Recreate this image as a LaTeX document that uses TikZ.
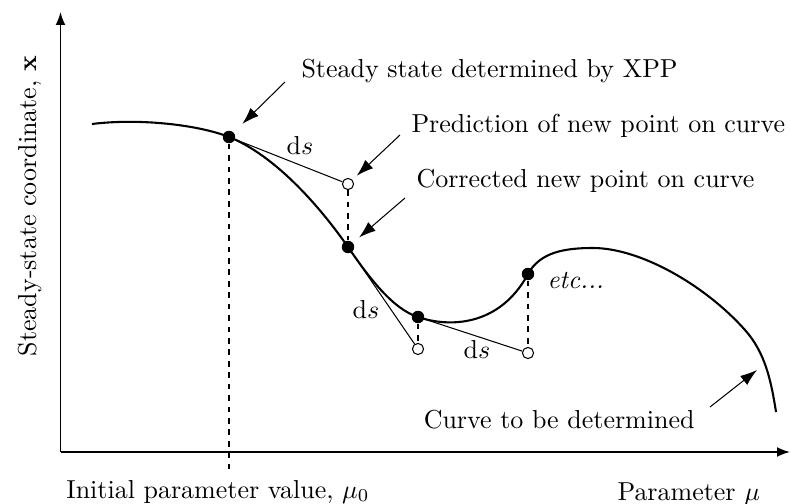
\documentclass[tikz,border=0pt]{standalone}
\usetikzlibrary{arrows.meta}
\tikzset{
  dot/.style={circle, fill=black, inner sep=0pt, minimum size=4.8pt},
  ring/.style={circle, draw=black, fill=white, line width=0.4pt, inner sep=0pt, minimum size=4.3pt},
  note/.style={anchor=base west, inner sep=0pt},
  guide/.style={dash pattern=on 2.2pt off 2.2pt, line width=0.4pt},
}
\begin{document}
\begin{tikzpicture}[x=0.385pt, y=-0.385pt, >={Latex[length=6.5pt,width=4.4pt]}]
    % 边界
    \useasboundingbox (0,0) rectangle (791,504);
    % 坐标轴
    \coordinate (o) at (60.5,452);
    \coordinate (xend) at (790,452);
    \coordinate (yend) at (60.5,12);
    \draw[line width=0.6pt, -{Latex[length=5pt,width=3.8pt]}] (o) -- (xend);
    \draw[line width=0.6pt, -{Latex[length=5pt,width=3.8pt]}] (o) -- (yend);
    \node[rotate=90, anchor=base, inner sep=0pt] (ylab) at (36,206) {Steady-state coordinate, $\mathbf{x}$};
    \node[anchor=base east, inner sep=0pt] (mu0lab) at (370,498) {Initial parameter value, $\mu_0$};
    \node[note] (mulab) at (617,500) {Parameter $\mu$};
    % 曲线上的点
    \node[dot] (p0) at (229,137) {};
    \node[dot] (p1) at (348,247) {};
    \node[dot] (p2) at (418,317) {};
    \node[dot] (p3) at (528,274) {};
    % 预测点
    \node[ring] (q1) at (348,184) {};
    \node[ring] (q2) at (418,349) {};
    \node[ring] (q3) at (528,353) {};
    % 曲线
    \draw[line width=0.8pt] (92,124) .. controls (140,118) and (199,125) .. (p0.center)
        .. controls (274,155) and (318,204) .. (p1.center)
        .. controls (370,279) and (393,309) .. (p2.center)
        .. controls (450,328) and (500,326) .. (p3.center)
        .. controls (540,252) and (565,248) .. (593,248)
        .. controls (640,248) and (705,285) .. (745,330)
        .. controls (765,352.5) and (771,380) .. (776,412);
    % 切线与校正
    \coordinate (mu0) at (229,470);
    \draw[guide] (p0) -- (mu0);
    \draw[line width=0.4pt] (p0) -- (q1);
    \draw[line width=0.4pt] (p1) -- (q2);
    \draw[line width=0.4pt] (p2) -- (q3);
    \draw[guide] (q1) -- (p1);
    \draw[guide] (p2) -- (q2);
    \draw[guide] (p3) -- (q3);
    \node (ds1) at (300,146) {d$s$};
    \node (ds2) at (366,310) {d$s$};
    \node (ds3) at (477,350) {d$s$};
    % 说明文字
    \node[note] (xpp) at (301,78) {Steady state determined by XPP};
    \node[note] (pred) at (411,133) {Prediction of new point on curve};
    \node[note] (corr) at (416,188) {Corrected new point on curve};
    \node[note] (etc) at (547,288) {\textit{etc...}};
    \node[anchor=base east, inner sep=0pt] (tobe) at (695,428) {Curve to be determined};
    \coordinate (a0) at (285,82);
    \coordinate (a1) at (400,135);
    \coordinate (a2) at (405,198);
    \coordinate (a3) at (710,407);
    \coordinate (a3e) at (757,370);
    \draw[->, shorten >=4.6pt] (a0) -- (p0);
    \draw[->, shorten >=2.3pt] (a1) -- (q1);
    \draw[->, shorten >=3pt] (a2) -- (p1);
    \draw[->] (a3) -- (a3e);
\end{tikzpicture}
\end{document}
